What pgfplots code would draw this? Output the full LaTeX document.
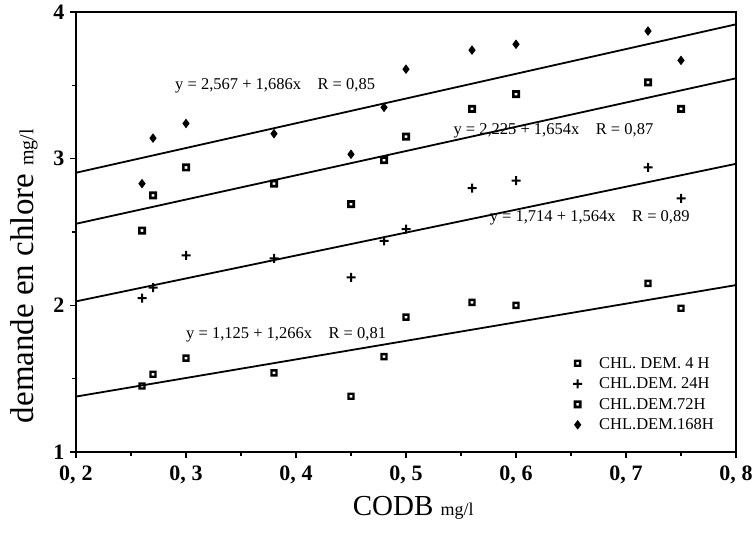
\documentclass[border=0pt]{standalone}
\usepackage{fontspec}
\setmainfont{Liberation Serif}
\usepackage{pgfplots}
\pgfplotsset{compat=1.18}
\newcommand{\fs}[1]{\fontsize{#1}{#1}\selectfont}
\newcommand{\tl}[1]{\textbf{0,\kern6bp #1}}
\pgfdeclareplotmark{bplus}{%
  \pgfpathrectangle{\pgfpoint{-\pgfplotmarksize}{-1bp}}{\pgfpoint{2\pgfplotmarksize}{2bp}}%
  \pgfpathrectangle{\pgfpoint{-1bp}{-\pgfplotmarksize}}{\pgfpoint{2bp}{2\pgfplotmarksize}}%
  \pgfusepathqfill}
\pgfdeclareplotmark{hsq}{%
  \pgfpathrectangle{\pgfpoint{-\pgfplotmarksize}{-\pgfplotmarksize}}{\pgfpoint{2\pgfplotmarksize}{2\pgfplotmarksize}}%
  \pgfpathrectangle{\pgfpoint{-1.3bp}{-1.3bp}}{\pgfpoint{2.6bp}{2.6bp}}%
  \pgfseteorule\pgfusepathqfill}
\begin{document}
\begin{tikzpicture}
\begin{axis}[
  scale only axis, width=660bp, height=440bp,
  xmin=0.2, xmax=0.8, ymin=1, ymax=4,
  xtick={0.2,0.3,0.4,0.5,0.6,0.7,0.8},
  xticklabels={\tl{2},\tl{3},\tl{4},\tl{5},\tl{6},\tl{7},\tl{8}},
  ytick={1,2,3,4},
  yticklabels={\textbf{1},\textbf{2},\textbf{3},\textbf{4}},
  minor x tick num=1, minor y tick num=1,
  tick align=outside, xtick pos=bottom, ytick pos=left,
  major tick length=6bp, minor tick length=4bp,
  axis line style={line width=2bp},
  every tick/.style={black, line width=1.4bp},
  ticklabel style={font=\fs{22bp}},
  xticklabel style={yshift=-4bp},
  yticklabel style={xshift=-2bp},
  clip=false,
  legend style={at={(rel axis cs:0.753,0.218)}, anchor=north west, draw=none, fill=none, inner sep=0pt, font=\fs{16.5bp}, column sep=15bp, row sep=6.5bp, nodes={inner sep=2bp, text height=10bp, text depth=0bp}},
  legend cell align=left,
  legend image code/.code={\draw[#1] plot coordinates {(0bp,0bp)};},
]
\addplot[black, only marks, mark=hsq, mark size=3.7bp] coordinates {
(0.26,1.45)(0.27,1.53)(0.30,1.64)(0.38,1.54)(0.45,1.38)(0.48,1.65)(0.50,1.92)(0.56,2.02)(0.60,2.00)(0.72,2.15)(0.75,1.98)};
\addlegendentry{CHL. DEM. 4 H}
\addplot[black, only marks, mark=bplus, mark size=4.5bp] coordinates {
(0.26,2.05)(0.27,2.12)(0.30,2.34)(0.38,2.32)(0.45,2.19)(0.48,2.44)(0.50,2.52)(0.56,2.80)(0.60,2.85)(0.72,2.94)(0.75,2.73)};
\addlegendentry{CHL.DEM. 24H}
\addplot[black, only marks, mark=hsq, mark size=4bp] coordinates {
(0.26,2.51)(0.27,2.75)(0.30,2.94)(0.38,2.83)(0.45,2.69)(0.48,2.99)(0.50,3.15)(0.56,3.34)(0.60,3.44)(0.72,3.52)(0.75,3.34)};
\addlegendentry{CHL.DEM.72H}
\addplot[black, only marks, line width=1bp, mark=diamond*, mark size=4bp, mark options={solid, line width=1bp}] coordinates {
(0.26,2.83)(0.27,3.14)(0.30,3.24)(0.38,3.17)(0.45,3.03)(0.48,3.35)(0.50,3.61)(0.56,3.74)(0.60,3.78)(0.72,3.87)(0.75,3.67)};
\addlegendentry{CHL.DEM.168H}
\addplot[black, line width=1.8bp, forget plot] coordinates {(0.2,1.378)(0.8,2.138)};
\addplot[black, line width=1.8bp, forget plot] coordinates {(0.2,2.027)(0.8,2.965)};
\addplot[black, line width=1.8bp, forget plot] coordinates {(0.2,2.556)(0.8,3.548)};
\addplot[black, line width=1.8bp, forget plot] coordinates {(0.2,2.904)(0.8,3.916)};
\node[anchor=west, font=\fs{16.5bp}, inner sep=0pt] at (axis cs:0.29,3.50) {y = 2,567 + 1,686x\hspace{1em}R = 0,85};
\node[anchor=west, font=\fs{16.5bp}, inner sep=0pt] at (axis cs:0.543,3.19) {y = 2,225 + 1,654x\hspace{1em}R = 0,87};
\node[anchor=west, font=\fs{16.5bp}, inner sep=0pt] at (axis cs:0.576,2.595) {y = 1,714 + 1,564x\hspace{1em}R = 0,89};
\node[anchor=west, font=\fs{16.5bp}, inner sep=0pt] at (axis cs:0.30,1.80) {y = 1,125 + 1,266x\hspace{1em}R = 0,81};
\node[rotate=90, anchor=center] at ([xshift=-52bp]rel axis cs:0,0.40) {\fs{33bp}demande en chlore \fs{20bp}mg/l};
\node[anchor=base] at ([yshift=-63bp]rel axis cs:0.511,0) {\fs{29bp}CODB \fs{18bp}mg/l};
\coordinate (sw) at (rel axis cs:0,0);
\coordinate (ne) at (rel axis cs:1,1);
\end{axis}
\pgfresetboundingbox
\path[use as bounding box] ([shift={(-76bp,-87bp)}]sw) rectangle ([shift={(20bp,12bp)}]ne);
\end{tikzpicture}
\end{document}
